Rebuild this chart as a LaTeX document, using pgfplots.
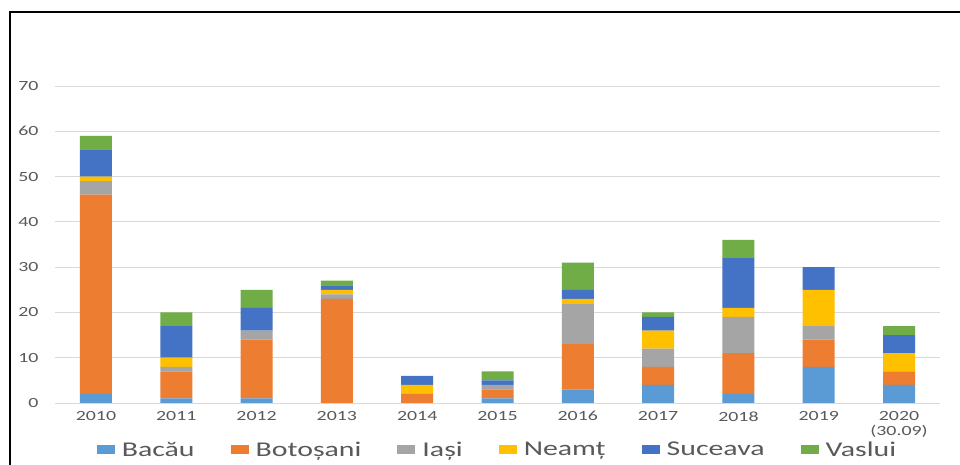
\documentclass[border=0pt]{standalone}
\usepackage{fontspec}
\setmainfont{Carlito}[FakeStretch=1.42]
\usepackage{pgfplots}
\usepackage{pgfplotstable}
\pgfplotsset{compat=1.18}

\definecolor{cBacau}{HTML}{5B9BD5}
\definecolor{cBotosani}{HTML}{ED7D31}
\definecolor{cIasi}{HTML}{A5A5A5}
\definecolor{cNeamt}{HTML}{FFC000}
\definecolor{cSuceava}{HTML}{4472C4}
\definecolor{cVaslui}{HTML}{70AD47}
\definecolor{textgray}{HTML}{595959}
\definecolor{gridgray}{HTML}{D9D9D9}

% x: 0 = 2010, ..., 10 = 2020 (30.09)
\pgfplotstableread{
x  Bacau Botosani Iasi Neamt Suceava Vaslui
0  2     44       3    1     6       3
1  1     6        1    2     7       3
2  1     13       2    0     5       4
3  0     23       1    1     1       1
4  0     2        0    2     2       0
5  1     2        1    0     1       2
6  3     10       9    1     2       6
7  4     4        4    4     3       1
8  2     9        8    2     11      4
9  8     6        3    8     5       0
10 4     3        0    4     4       2
}\datatable

\begin{document}
\begin{tikzpicture}
\useasboundingbox (0,0) rectangle (960pt,465pt);
\fill[white] (0,0) rectangle (960pt,465pt);
\begin{axis}[
  at={(55pt,62pt)}, anchor=south west,
  scale only axis, width=885pt, height=317pt,
  ybar stacked, bar width=32pt,
  xmin=-0.51, xmax=10.51, ymin=0, ymax=70,
  xtick={0,...,10},
  xticklabels={2010,2011,2012,2013,2014,2015,2016,2017,2018,2019,{2020\\(30.09)}},
  ytick={0,10,...,70},
  ymajorgrids, grid style={draw=gridgray, line width=0.9pt},
  axis line style={draw=none},
  major tick length=0pt,
  /pgf/number format/assume math mode=true,
  tick label style={text=textgray, font=\fontsize{14}{15}\selectfont},
  xticklabel style={align=center, yshift=-5pt},
  yticklabel style={xshift=-13pt},
  legend columns=6,
  legend style={at={(0.5,-0.148)}, anchor=center, draw=none, fill=none,
    font=\fontsize{21}{21}\selectfont, text=textgray,
    /tikz/every odd column/.append style={column sep=5pt},
    /tikz/every even column/.append style={column sep=34pt}},
  legend image code/.code={\fill[#1,draw=none] (0pt,-4.5pt) rectangle (18pt,4.5pt);},
  every axis plot/.append style={draw=none},
]
\addplot[fill=cBacau]    table[x=x, y=Bacau]    {\datatable};
\addplot[fill=cBotosani] table[x=x, y=Botosani] {\datatable};
\addplot[fill=cIasi]     table[x=x, y=Iasi]     {\datatable};
\addplot[fill=cNeamt]    table[x=x, y=Neamt]    {\datatable};
\addplot[fill=cSuceava]  table[x=x, y=Suceava]  {\datatable};
\addplot[fill=cVaslui]   table[x=x, y=Vaslui]   {\datatable};
\legend{Bacău, Botoșani, Iași, Neamț, Suceava, Vaslui}
\end{axis}
% frame lines along the top and left edges
\draw[line width=2.5pt] (10pt,0pt) -- (10pt,453pt) -- (960pt,453pt);
\end{tikzpicture}
\end{document}
